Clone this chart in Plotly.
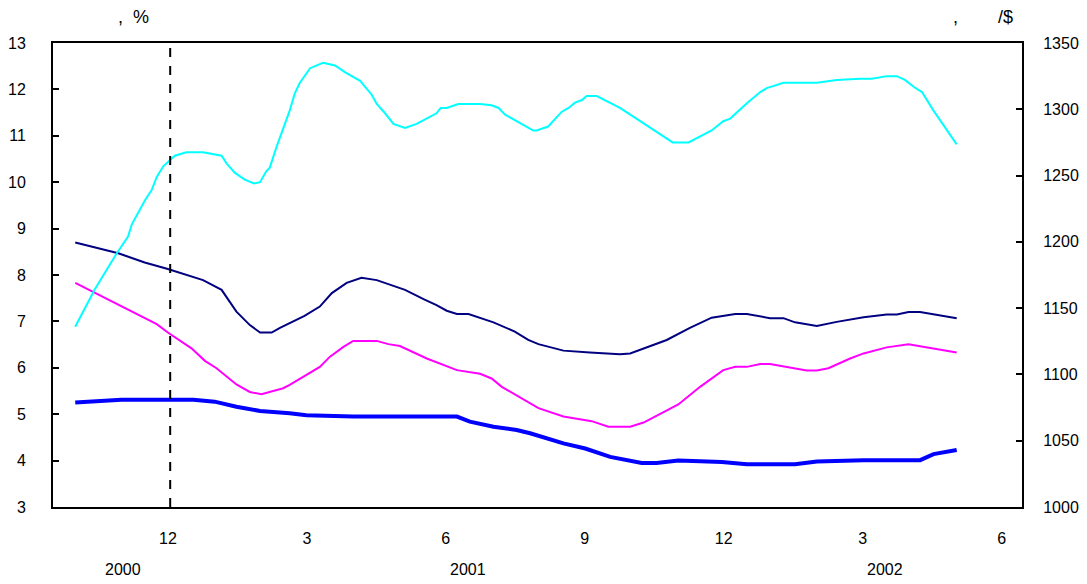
import plotly.graph_objects as go

# x = month index (12 = Dec 2000, 24 = Dec 2001, 30 = Jun 2002)
fx_x = [10.0, 10.42, 10.89, 11.14, 11.22, 11.5, 11.65, 11.76, 11.9, 12.0, 12.15, 12.4, 12.76,
        13.16, 13.27, 13.45, 13.66, 13.86, 13.99, 14.12, 14.2, 14.35, 14.63, 14.74, 14.85,
        15.07, 15.35, 15.61, 15.82, 16.15, 16.4, 16.51, 16.69, 16.87, 17.12, 17.37, 17.59,
        17.8, 17.89, 18.02, 18.27, 18.74, 18.99, 19.14, 19.28, 19.6, 19.89, 19.96, 20.21,
        20.5, 20.65, 20.79, 20.94, 21.04, 21.26, 21.76, 21.98, 22.27, 22.9, 23.24, 23.74,
        23.99, 24.14, 24.5, 24.79, 24.93, 25.29, 26.01, 26.44, 26.95, 27.2, 27.52, 27.74,
        27.92, 28.1, 28.28, 28.53, 29.03]
fx_rate = [1136, 1164, 1191, 1204, 1213, 1231, 1239, 1249, 1257, 1260, 1265, 1267.5, 1267.5,
           1265, 1259, 1252, 1247, 1244, 1245, 1253, 1256, 1272, 1299, 1312, 1320,
           1331, 1335, 1333, 1328, 1321.5, 1311, 1304, 1297, 1289, 1286, 1289, 1293,
           1297, 1301, 1301, 1304, 1304, 1303, 1301, 1296, 1290, 1284, 1284, 1287,
           1298, 1301, 1305, 1307, 1310, 1310, 1301, 1296, 1289, 1275, 1275, 1284,
           1291, 1293, 1304.5, 1313, 1316, 1320, 1320, 1322, 1323, 1323, 1325, 1325,
           1322, 1317, 1313, 1299, 1273.5]

corp_x = [10.0, 10.93, 11.5, 12.0, 12.76, 13.16, 13.48, 13.77, 13.99, 14.24, 14.42, 14.63,
          14.95, 15.28, 15.54, 15.86, 16.18, 16.51, 17.12, 17.52, 17.8, 18.02, 18.24, 18.49,
          19.03, 19.49, 19.78, 20.0, 20.54, 21.11, 21.76, 21.98, 22.77, 23.27, 23.74, 24.25,
          24.5, 25.0, 25.29, 25.54, 26.01, 26.44, 27.02, 27.52, 27.74, 27.99, 28.24, 29.03]
corp_yield = [8.70, 8.47, 8.27, 8.13, 7.89, 7.68, 7.21, 6.92, 6.76, 6.76, 6.86, 6.96,
              7.12, 7.32, 7.61, 7.83, 7.94, 7.89, 7.68, 7.48, 7.35, 7.23, 7.16, 7.16,
              6.98, 6.78, 6.60, 6.51, 6.37, 6.33, 6.29, 6.31, 6.60, 6.86, 7.08, 7.16,
              7.16, 7.07, 7.07, 6.98, 6.90, 6.99, 7.09, 7.15, 7.15, 7.20, 7.20, 7.07]

govt_x = [10.0, 10.96, 11.76, 12.0, 12.51, 12.8, 13.05, 13.48, 13.77, 14.02, 14.49, 14.63,
          14.99, 15.28, 15.5, 15.79, 16.0, 16.51, 16.76, 17.01, 17.59, 18.24, 18.74, 18.99,
          19.21, 19.67, 19.82, 20.0, 20.54, 21.15, 21.51, 21.98, 22.27, 23.02, 23.49, 23.74,
          23.99, 24.25, 24.5, 24.79, 25.0, 25.79, 26.01, 26.26, 26.73, 27.02, 27.52, 27.99,
          29.03]
govt_yield = [7.83, 7.35, 6.94, 6.76, 6.42, 6.15, 5.99, 5.64, 5.48, 5.43, 5.56, 5.63,
              5.84, 6.02, 6.24, 6.45, 6.58, 6.58, 6.51, 6.47, 6.20, 5.95, 5.87, 5.77,
              5.59, 5.32, 5.25, 5.13, 4.95, 4.85, 4.73, 4.73, 4.82, 5.21, 5.59, 5.77,
              5.95, 6.02, 6.02, 6.08, 6.08, 5.94, 5.94, 5.99, 6.20, 6.31, 6.44, 6.51,
              6.33]

call_x = [10.0, 11.0, 12.55, 13.01, 13.48, 13.99, 14.63, 14.99, 16.0, 18.24, 18.52, 19.03,
          19.53, 19.82, 20.54, 21.01, 21.55, 22.23, 22.55, 23.02, 23.96, 24.5, 25.54, 26.01,
          27.02, 28.24, 28.53, 29.03]
call_rate = [5.25, 5.31, 5.31, 5.27, 5.16, 5.07, 5.02, 4.98, 4.95, 4.95, 4.84, 4.73,
             4.66, 4.59, 4.37, 4.26, 4.08, 3.95, 3.95, 4.00, 3.97, 3.92, 3.92, 3.98,
             4.01, 4.01, 4.14, 4.23]

tick_vals = [12, 15, 18, 21, 24, 27, 30]
tick_text = ["12", "3", "6", "9", "12", "3", "6"]
years = ["2000", "2001", "2002"]
year_pos = [11.03, 18.48, 27.49]
event_month = 12.05

FONT = "Liberation Sans, Arial, sans-serif"

fig = go.Figure()
fig.add_trace(go.Scatter(x=fx_x, y=fx_rate, mode="lines", yaxis="y2",
                         line=dict(color="#00FFFF", width=2)))
fig.add_trace(go.Scatter(x=corp_x, y=corp_yield, mode="lines",
                         line=dict(color="#000080", width=2)))
fig.add_trace(go.Scatter(x=govt_x, y=govt_yield, mode="lines",
                         line=dict(color="#FF00FF", width=2)))
fig.add_trace(go.Scatter(x=call_x, y=call_rate, mode="lines",
                         line=dict(color="#0000FF", width=4)))

# vertical dashed marker
fig.add_shape(type="line", xref="x", yref="paper", x0=event_month, x1=event_month,
              y0=0, y1=1, line=dict(color="black", width=2, dash="dash"))

for yr, pos in zip(years, year_pos):
    fig.add_annotation(x=pos, y=-0.135, xref="x", yref="paper", text=yr, showarrow=False,
                       yanchor="middle", font=dict(size=16))

# axis unit labels
fig.add_annotation(x=(116 - 53) / 969, y=1.055, xref="paper", yref="paper",
                   text=",  %", showarrow=False, xanchor="left", yanchor="middle",
                   font=dict(size=18))
fig.add_annotation(x=(1015 - 53) / 969, y=1.055, xref="paper", yref="paper",
                   text=",        /$", showarrow=False, xanchor="right", yanchor="middle",
                   font=dict(size=18))

# page body has an 8px margin, so the figure is shrunk to fit the window
fig.update_layout(
    width=1079, height=576,
    margin=dict(l=45, r=65, t=35, b=77),
    plot_bgcolor="white", paper_bgcolor="white",
    showlegend=False,
    font=dict(family=FONT, size=16, color="black"),
    xaxis=dict(range=[9.52, 30.44], tickvals=tick_vals, ticktext=tick_text,
               showgrid=False, zeroline=False, showline=True, linecolor="black",
               linewidth=2, mirror=True, ticks="", ticklabelstandoff=16,
               automargin=False),
    yaxis=dict(range=[3, 13], dtick=1, showgrid=False, zeroline=False, showline=True,
               linecolor="black", linewidth=2, ticks="inside", ticklen=6, tickwidth=2,
               tickcolor="black", ticklabelstandoff=22, automargin=False),
    yaxis2=dict(range=[1000, 1350], dtick=50, overlaying="y", side="right",
                showgrid=False, zeroline=False, showline=True, linecolor="black",
                linewidth=2, ticks="inside", ticklen=6, tickwidth=2, tickcolor="black",
                ticklabelstandoff=16, automargin=False),
)

fig.write_html("out.html")
